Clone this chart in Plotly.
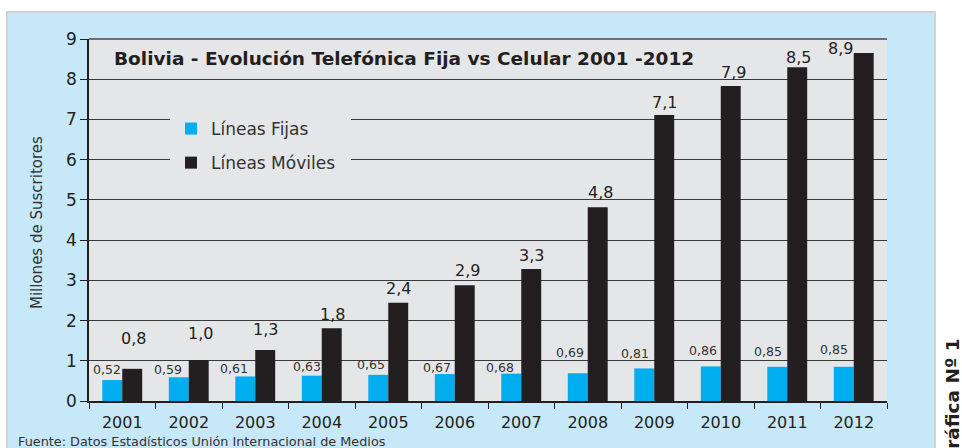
import plotly.graph_objects as go

# ---------------- data ----------------
years = ["2001", "2002", "2003", "2004", "2005", "2006",
         "2007", "2008", "2009", "2010", "2011", "2012"]
fijas = [0.52, 0.59, 0.61, 0.63, 0.65, 0.67, 0.68, 0.69, 0.81, 0.86, 0.85, 0.85]
moviles = [0.80, 1.02, 1.27, 1.81, 2.44, 2.88, 3.28, 4.82, 7.11, 7.83, 8.30, 8.65]
fijas_text = ["0,52", "0,59", "0,61", "0,63", "0,65", "0,67",
              "0,68", "0,69", "0,81", "0,86", "0,85", "0,85"]
moviles_text = ["0,8", "1,0", "1,3", "1,8", "2,4", "2,9",
                "3,3", "4,8", "7,1", "7,9", "8,5", "8,9"]
y_ticks = [0, 1, 2, 3, 4, 5, 6, 7, 8, 9]

title_text = "Bolivia - Evolución Telefónica Fija vs Celular 2001 -2012"
y_title = "Millones de Suscritores"
source_text = "Fuente: Datos Estadísticos Unión Internacional de Medios"
side_text = "Gráfica Nº 1"

# ---------------- geometry / style ----------------
W, H = 962, 448
L, R, T, B = 89, 75, 39, 47
PW, PH = W - L - R, H - T - B


def px_x(px):
    return (px - L) / PW


def px_y(py):
    return (H - B - py) / PH


FONT = "DejaVu Sans, Verdana, sans-serif"
DARK = "#231f20"
GREY_TXT = "#333333"
CYAN = "#00aeef"
PANEL = "#c7e8f9"
PLOTBG = "#e5e6e8"

# per-label offsets (pixels) for value labels
fija_dx = [-15, -21, -21, -15, -17, -18, -21, -18, -19, -18, -19, -20]
fija_dy = [11, 8, 8, 9, 10, 7, 6, 21, 15, 16, 15, 17]
mov_dx = [11, 12, 10, 11, 10, 13, 10, 13, 10, 13, 11, -13]
mov_dy = [30, 26, 20, 14, 14, 15, 14, 15, 13, 14, 10, 5]

fig = go.Figure()
fig.add_trace(go.Bar(x=years, y=fijas, name="Líneas Fijas", marker_color=CYAN,
                     marker_line_width=0, legendgroup="a", hoverinfo="skip"))
fig.add_trace(go.Bar(x=years, y=moviles, name="Líneas Móviles", marker_color=DARK,
                     marker_line_width=0, legendgroup="b", hoverinfo="skip"))

annotations = []
for i in range(len(years)):
    annotations.append(dict(x=i, y=fijas[i], xref="x", yref="y", text=fijas_text[i],
                            showarrow=False, xshift=fija_dx[i], yshift=fija_dy[i],
                            yanchor="middle", xanchor="center",
                            font=dict(family=FONT, size=12.5, color=GREY_TXT)))
    annotations.append(dict(x=i, y=moviles[i], xref="x", yref="y", text=moviles_text[i],
                            showarrow=False, xshift=mov_dx[i], yshift=mov_dy[i],
                            yanchor="middle", xanchor="center",
                            font=dict(family=FONT, size=16, color=DARK)))

annotations += [
    dict(x=px_x(112), y=px_y(58), xref="paper", yref="paper", text="<b>" + title_text + "</b>",
         showarrow=False, xanchor="left", yanchor="middle",
         font=dict(family=FONT, size=18.5, color=DARK)),
    dict(x=px_x(37), y=px_y(223), xref="paper", yref="paper", text=y_title,
         showarrow=False, textangle=-90, xanchor="center", yanchor="middle",
         font=dict(family=FONT, size=15, color=GREY_TXT)),
    dict(x=px_x(16), y=px_y(441), xref="paper", yref="paper", text=source_text,
         showarrow=False, xanchor="left", yanchor="middle",
         font=dict(family=FONT, size=12.8, color=GREY_TXT)),
    dict(x=px_x(952), y=px_y(336), xref="paper", yref="paper", text="<b>" + side_text + "</b>",
         showarrow=False, textangle=-90, xanchor="center", yanchor="top",
         font=dict(family=FONT, size=18.5, color=DARK)),
]

shapes = [
    # light-blue panel
    dict(type="rect", xref="paper", yref="paper", layer="below",
         x0=px_x(7), x1=px_x(935), y0=px_y(480), y1=px_y(12),
         fillcolor=PANEL, line=dict(color="#d3d3d3", width=2)),
    # plot background
    dict(type="rect", xref="paper", yref="paper", layer="below",
         x0=0, x1=1, y0=0, y1=1, fillcolor=PLOTBG, line=dict(width=0)),
    # gap in the grid lines behind the legend
    dict(type="rect", xref="paper", yref="paper", layer="above",
         x0=px_x(170), x1=px_x(351), y0=px_y(175), y1=px_y(108),
         fillcolor=PLOTBG, line=dict(width=0)),
    # top border of plot area
    dict(type="line", xref="paper", yref="paper", layer="above",
         x0=0, x1=1, y0=1, y1=1, line=dict(color="#6f6f6f", width=2)),
]

fig.update_layout(
    width=W, height=H,
    margin=dict(l=L, r=R, t=T, b=B, pad=0),
    paper_bgcolor="white",
    plot_bgcolor="rgba(0,0,0,0)",
    barmode="group", bargap=0.4, bargroupgap=0,
    showlegend=True,
    legend=dict(x=px_x(171), y=px_y(111), xanchor="left", yanchor="top",
                bgcolor="rgba(0,0,0,0)", borderwidth=0,
                traceorder="grouped", tracegroupgap=9,
                font=dict(family=FONT, size=17, color=GREY_TXT)),
    annotations=annotations,
    shapes=shapes,
    font=dict(family=FONT, color=DARK),
    xaxis=dict(type="category", range=[-0.5, len(years) - 0.5], autorange=False,
               showline=True, linecolor=DARK, linewidth=1.5,
               ticks="outside", tickson="boundaries", ticklen=6, tickcolor=DARK,
               tickwidth=1, showgrid=False, tickfont=dict(family=FONT, size=16, color=DARK),
               ticklabelstandoff=6, fixedrange=True),
    yaxis=dict(range=[0, 9], autorange=False, tickvals=y_ticks, showline=True,
               linecolor=DARK, linewidth=1.5,
               ticks="outside", ticklen=7, tickcolor=DARK, tickwidth=1,
               showgrid=True, gridcolor="#3a3a3a", gridwidth=1, zeroline=False,
               tickfont=dict(family=FONT, size=17, color=DARK), ticklabelstandoff=0,
               fixedrange=True),
)

fig.write_html("out.html", config={"displayModeBar": False},
               post_script="document.body.style.margin='0';document.body.style.overflow='hidden';")
